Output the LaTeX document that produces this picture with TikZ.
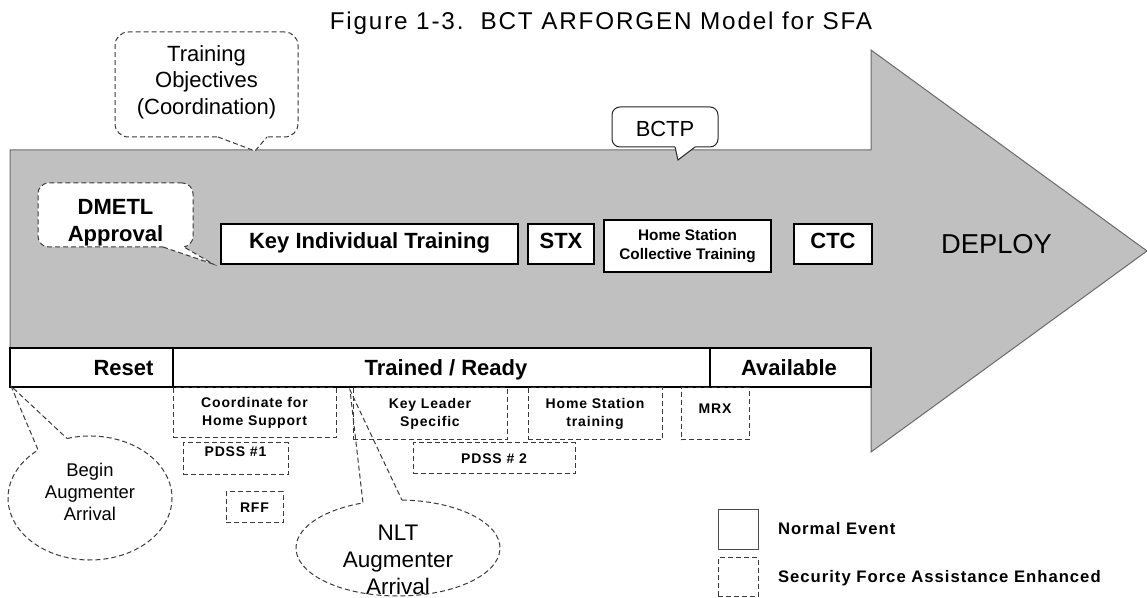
\documentclass[tikz,border=0pt]{standalone}
\usepackage{fontspec}
\setmainfont{Liberation Sans}
\newfontfamily\spacedsans[LetterSpace=6]{Liberation Sans}
\newfontfamily\titlesans[LetterSpace=7.5]{Liberation Sans}
\usetikzlibrary{calc}

\definecolor{shaftgray}{HTML}{C0C0C0}
\definecolor{edgegray}{HTML}{6A6A6A}
\definecolor{dashgray}{HTML}{3A3A3A}

\begin{document}
\begin{tikzpicture}[x=0.75pt, y=-0.75pt,
  every node/.style={inner sep=0pt, outer sep=0pt},
  wh/.style 2 args={minimum width=#1*0.75pt, minimum height=#2*0.75pt},
  solidbox/.style={draw=black, fill=white, line width=0.8pt},
  dashbox/.style={draw=dashgray, line width=0.75pt, dash pattern=on 3.75pt off 2.25pt},
  dashline/.style={draw=dashgray, line width=0.75pt, dash pattern=on 3.75pt off 2.25pt},
  capc/.style={text height=0.72em, text depth=0pt},
  boldlbl/.style={font=\bfseries\fontsize{16.5}{20}\selectfont, align=center},
  smalllbl/.style={font=\spacedsans\bfseries\fontsize{10.5}{13.5}\selectfont, align=center},
  legendlbl/.style={font=\spacedsans\bfseries\fontsize{12.5}{15}\selectfont},
]
\useasboundingbox (0,0) rectangle (1147,598);

% title
\node[font=\titlesans\fontsize{18.2}{22}\selectfont, anchor=base] (title) at (601,30)
  {Figure 1-3.\ \ BCT ARFORGEN Model for SFA};

% the big grey arrow
\path[draw=edgegray, fill=shaftgray, line width=0.75pt]
  (10,150) -- (871,150) -- (871,50) -- (1147,251) -- (871,452) -- (871,387) -- (10,387) -- cycle;

% phase strip
\node[solidbox, wh={163}{39}, anchor=north west] (resetcell) at (10,348) {};
\node[solidbox, wh={537}{39}, anchor=north west] (readycell) at (173,348) {};
\node[solidbox, wh={161}{39}, anchor=north west] (availcell) at (710,348) {};
\node[boldlbl, anchor=base] (resetlbl) at (123.5,376) {Reset};
\node[boldlbl, anchor=base] (readylbl) at (446,376) {Trained / Ready};
\node[boldlbl, anchor=base] (availlbl) at (789,376) {Available};

% normal events inside the arrow
\node[solidbox, boldlbl, capc, wh={297}{40}] (kit) at (369.5,244) {Key Individual Training};
\node[solidbox, boldlbl, capc, wh={66}{40}] (stx) at (561,244) {STX};
\node[solidbox, font=\bfseries\fontsize{11.5}{14.3}\selectfont, align=center, wh={167}{52}] (hsct)
  at (687.5,246) {Home Station\\Collective Training};
\node[solidbox, boldlbl, capc, wh={78}{40}] (ctc) at (833,244) {CTC};
\node[font=\fontsize{20.5}{24}\selectfont, anchor=base] (deploy) at (996.5,254) {DEPLOY};

% SFA enhanced events
\node[dashbox, smalllbl, wh={163}{50}] (coord) at (254.5,413) {Coordinate for\\Home Support};
\node[dashbox, smalllbl, wh={154}{52}] (keyl) at (430,414) {Key Leader\\Specific};
\node[dashbox, smalllbl, wh={134}{52}] (hstr) at (595,414) {Home Station\\training};
\node[dashbox, wh={68}{52}] (mrx) at (715,414) {};
\node[smalllbl, anchor=base] (mrxlbl) at (715,414) {MRX};
\node[dashbox, wh={105}{32}] (pdss1) at (235.5,459) {};
\node[smalllbl, anchor=base] (pdss1lbl) at (235.5,457) {PDSS \#1};
\node[dashbox, smalllbl, capc, wh={162}{31}] (pdss2) at (494,458.5) {PDSS \# 2};
\node[dashbox, smalllbl, capc, wh={57}{31}] (rff) at (254.5,507.5) {RFF};

% callout: training objectives
\node[dashbox, fill=white, rounded corners=10pt, wh={183}{105}] (tobox) at (206.5,84.5) {};
\coordinate (totip) at (255,151);
\coordinate (tob1) at ($(tobox.south west)+(103,0)$);
\coordinate (tob2) at ($(tobox.south west)+(152,0)$);
\fill[white] ($(tob1)+(0,-3)$) -- (tob1) -- (totip) -- (tob2) -- ($(tob2)+(0,-3)$) -- cycle;
\draw[dashline] (tob1) -- (totip) -- (tob2);
\node[font=\fontsize{16.5}{20}\selectfont, align=center] (totext) at (206.5,82)
  {Training\\Objectives\\(Coordination)};

% callout: DMETL approval
\node[dashbox, fill=white, rounded corners=8pt, wh={155}{64}] (dmbox) at (115.5,215) {};
\coordinate (dmtip) at (213,264);
\coordinate (dmb1) at ($(dmbox.south west)+(125,0)$);
\coordinate (dmb2) at ($(dmbox.south west)+(146,0)$);
\fill[white] ($(dmb1)+(0,-3)$) -- (dmb1) -- (dmtip) -- (dmb2) -- ($(dmb2)+(0,-3)$) -- cycle;
\draw[dashline] (dmb1) -- (dmtip) -- (dmb2);
\node[boldlbl] (dmtext) at (115.5,223) {DMETL\\Approval};

% callout: BCTP
\node[draw=black!85, fill=white, line width=0.75pt, rounded corners=6pt, wh={106}{40}] (bcbox) at (665,127) {};
\coordinate (bctip) at (678,160);
\coordinate (bcb1) at ($(bcbox.south west)+(63,0)$);
\coordinate (bcb2) at ($(bcbox.south west)+(83,0)$);
\fill[white] ($(bcb1)+(0,-3)$) -- (bcb1) -- (bctip) -- (bcb2) -- ($(bcb2)+(0,-3)$) -- cycle;
\draw[black!85, line width=0.75pt] (bcb1) -- (bctip) -- (bcb2);
\node[font=\fontsize{16.4}{20}\selectfont, anchor=base] (bctext) at (665,137) {BCTP};

% callout: begin augmenter arrival
\node[font=\fontsize{13.8}{16.3}\selectfont, align=center] (bgtext) at (90,492) {Begin\\Augmenter\\Arrival};
\coordinate (bgc) at (90,498);
\coordinate (bgtip) at (11,386);
\draw[dashline] ($(bgc)+(253.7:82 and 62)$)
  arc[start angle=253.7, end angle=590.7, x radius=82, y radius=62] -- (bgtip) -- cycle;

% callout: NLT augmenter arrival
\node[font=\fontsize{16.9}{20.5}\selectfont, align=center] (nlttext) at (398,560) {NLT\\Augmenter\\Arrival};
\coordinate (nltc) at (398,548);
\coordinate (nlttip) at (350,390);
\draw[dashline] ($(nltc)+(272.2:102 and 48)$)
  arc[start angle=272.2, end angle=609.9, x radius=102, y radius=48] -- (nlttip) -- cycle;

% legend
\node[draw=black!70, line width=0.75pt, wh={40}{40}] (lgsolid) at (738,530) {};
\node[dashbox, wh={40}{39}] (lgdash) at (738,577.5) {};
\node[legendlbl, anchor=base west] (lgsolidtxt) at (778,535) {Normal Event};
\node[legendlbl, anchor=base west] (lgdashtxt) at (778,583) {Security Force Assistance Enhanced};
\end{tikzpicture}
\end{document}
